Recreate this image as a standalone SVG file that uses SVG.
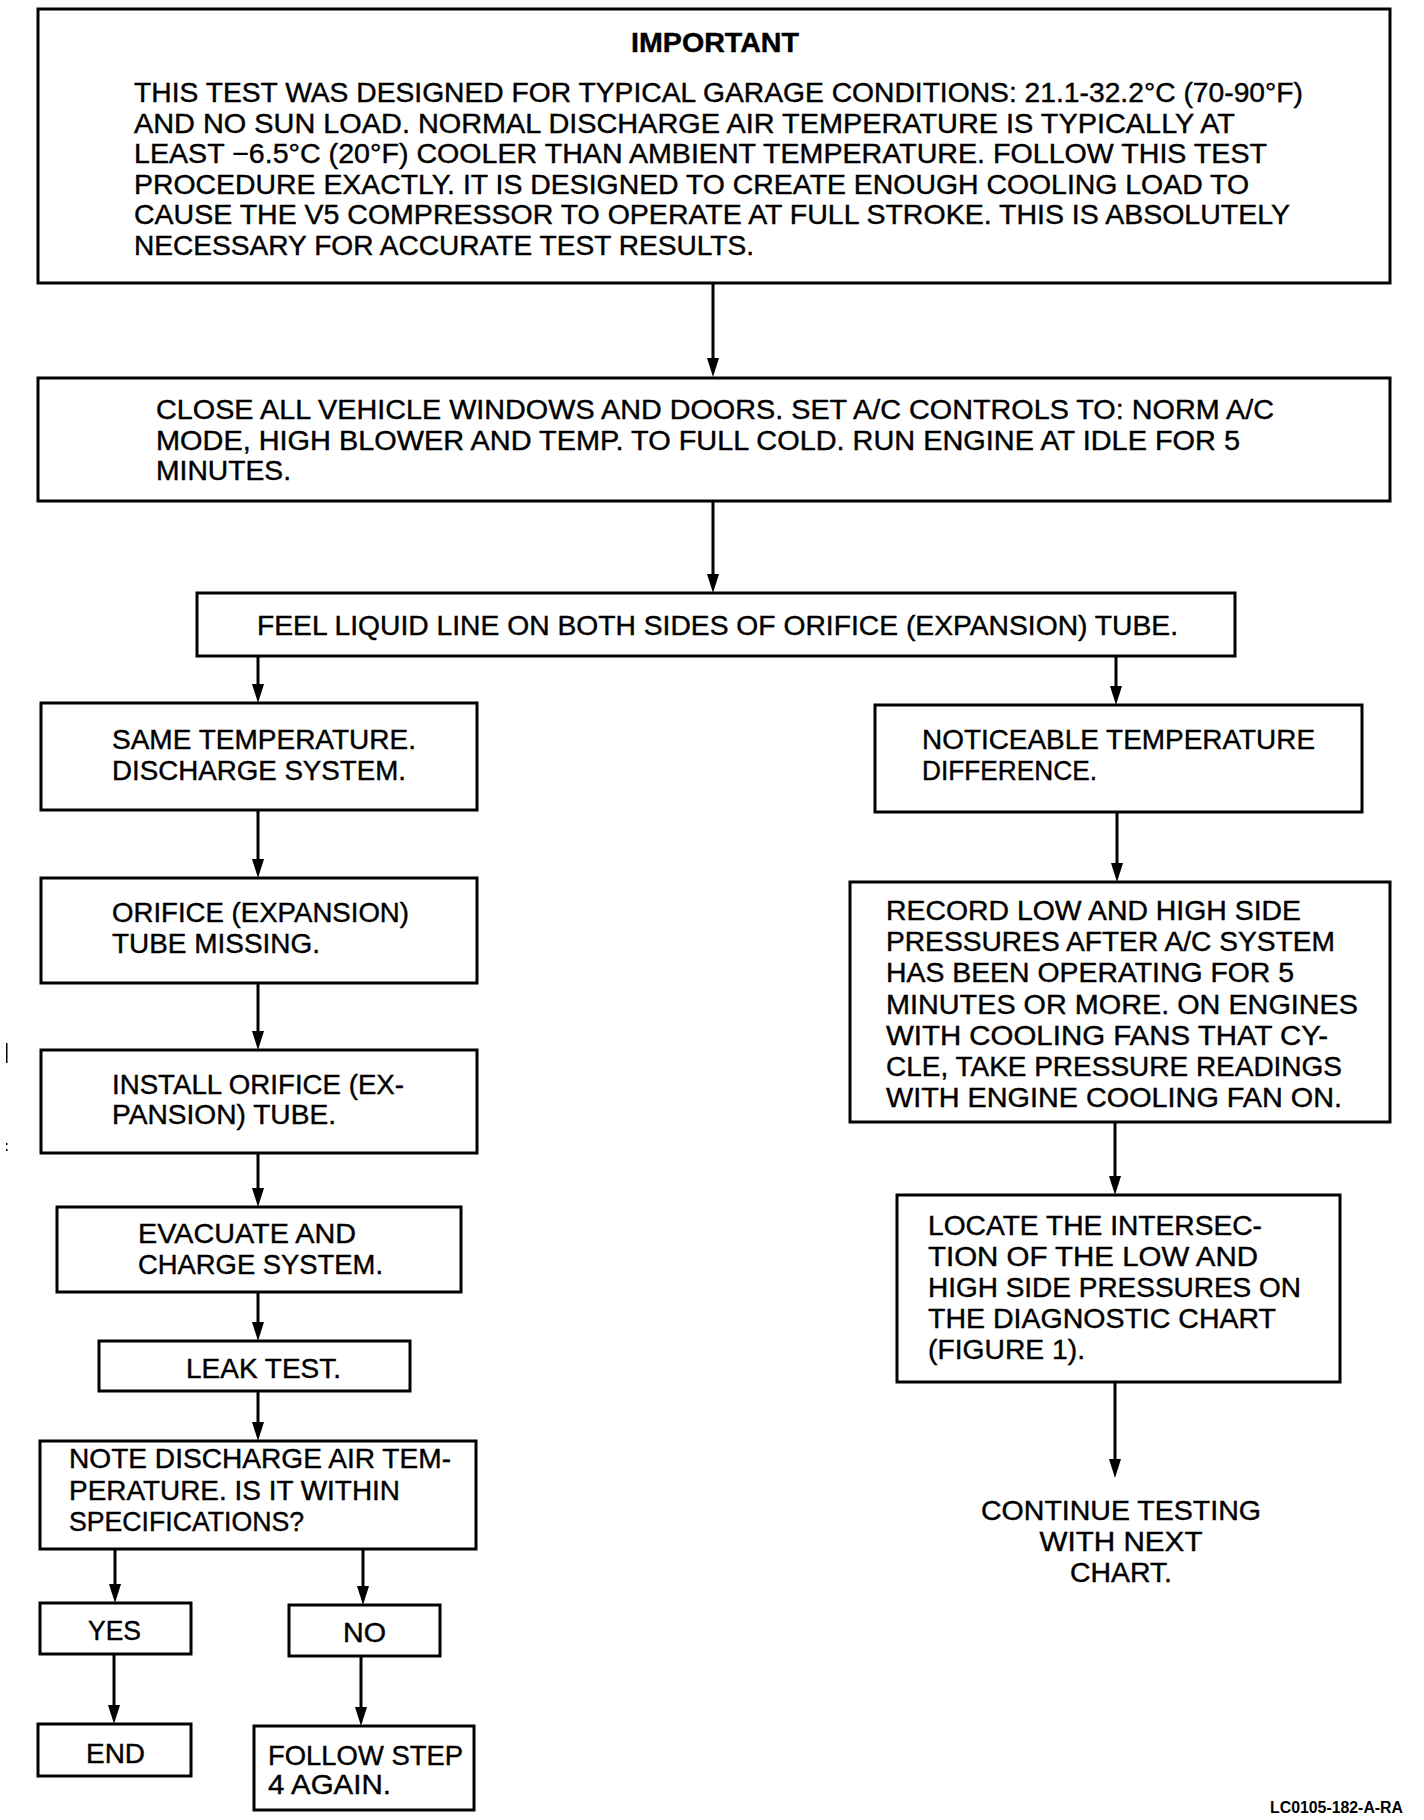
<svg xmlns="http://www.w3.org/2000/svg" width="1424" height="1820" viewBox="0 0 1424 1820">
<style>
.box{fill:#fff;stroke:#000;stroke-width:3}
.t{font-family:"Liberation Sans",Arial,Helvetica,sans-serif;font-size:27.5px;fill:#000;stroke:#000;stroke-width:0.4}
.b{font-weight:bold}
.c{text-anchor:middle}
.ln{fill:none;stroke:#000;stroke-width:3}
.small{font-family:"Liberation Sans",Arial,sans-serif;font-size:16px;font-weight:bold;fill:#000}
</style>
<defs>
<marker id="ah" markerUnits="userSpaceOnUse" markerWidth="20" markerHeight="14" viewBox="0 0 20 14" refX="8" refY="7" orient="auto">
<path d="M0,1 L19,7 L0,13 z" fill="#000"/>
</marker>
</defs>
<rect width="1424" height="1820" fill="#fff"/>

<g id="connectors">
<line class="ln" x1="713" y1="283" x2="713" y2="366" marker-end="url(#ah)"/>
<line class="ln" x1="713" y1="501" x2="713" y2="582" marker-end="url(#ah)"/>
<line class="ln" x1="258" y1="656" x2="258" y2="692" marker-end="url(#ah)"/>
<line class="ln" x1="1116" y1="656" x2="1116" y2="694" marker-end="url(#ah)"/>
<line class="ln" x1="258" y1="810" x2="258" y2="867" marker-end="url(#ah)"/>
<line class="ln" x1="1117" y1="812" x2="1117" y2="871" marker-end="url(#ah)"/>
<line class="ln" x1="258" y1="983" x2="258" y2="1039" marker-end="url(#ah)"/>
<line class="ln" x1="1115" y1="1122" x2="1115" y2="1184" marker-end="url(#ah)"/>
<line class="ln" x1="258" y1="1153" x2="258" y2="1196" marker-end="url(#ah)"/>
<line class="ln" x1="258" y1="1292" x2="258" y2="1330" marker-end="url(#ah)"/>
<line class="ln" x1="1115" y1="1382" x2="1115" y2="1467" marker-end="url(#ah)"/>
<line class="ln" x1="258" y1="1391" x2="258" y2="1430" marker-end="url(#ah)"/>
<line class="ln" x1="115" y1="1549" x2="115" y2="1592" marker-end="url(#ah)"/>
<line class="ln" x1="363" y1="1549" x2="363" y2="1594" marker-end="url(#ah)"/>
<line class="ln" x1="114" y1="1654" x2="114" y2="1713" marker-end="url(#ah)"/>
<line class="ln" x1="361" y1="1656" x2="361" y2="1715" marker-end="url(#ah)"/>
</g>

<g id="important">
<rect class="box" x="38" y="9" width="1352" height="274"/>
<text class="t b" x="631" y="52" textLength="168" lengthAdjust="spacingAndGlyphs">IMPORTANT</text>
<text class="t" x="134" y="102" textLength="1169" lengthAdjust="spacingAndGlyphs">THIS TEST WAS DESIGNED FOR TYPICAL GARAGE CONDITIONS: 21.1-32.2°C (70-90°F)</text>
<text class="t" x="134" y="132.5" textLength="1101" lengthAdjust="spacingAndGlyphs">AND NO SUN LOAD. NORMAL DISCHARGE AIR TEMPERATURE IS TYPICALLY AT</text>
<text class="t" x="134" y="163" textLength="1133" lengthAdjust="spacingAndGlyphs">LEAST −6.5°C (20°F) COOLER THAN AMBIENT TEMPERATURE. FOLLOW THIS TEST</text>
<text class="t" x="134" y="193.5" textLength="1115" lengthAdjust="spacingAndGlyphs">PROCEDURE EXACTLY. IT IS DESIGNED TO CREATE ENOUGH COOLING LOAD TO</text>
<text class="t" x="134" y="224" textLength="1156" lengthAdjust="spacingAndGlyphs">CAUSE THE V5 COMPRESSOR TO OPERATE AT FULL STROKE. THIS IS ABSOLUTELY</text>
<text class="t" x="134" y="254.5" textLength="620" lengthAdjust="spacingAndGlyphs">NECESSARY FOR ACCURATE TEST RESULTS.</text>
</g>

<g id="close-windows">
<rect class="box" x="38" y="378" width="1352" height="123"/>
<text class="t" x="156" y="419" textLength="1118" lengthAdjust="spacingAndGlyphs">CLOSE ALL VEHICLE WINDOWS AND DOORS. SET A/C CONTROLS TO: NORM A/C</text>
<text class="t" x="156" y="450" textLength="1084" lengthAdjust="spacingAndGlyphs">MODE, HIGH BLOWER AND TEMP. TO FULL COLD. RUN ENGINE AT IDLE FOR 5</text>
<text class="t" x="156" y="480" textLength="135" lengthAdjust="spacingAndGlyphs">MINUTES.</text>
</g>

<g id="feel-liquid-line">
<rect class="box" x="197" y="593" width="1038" height="63"/>
<text class="t" x="257" y="635" textLength="921" lengthAdjust="spacingAndGlyphs">FEEL LIQUID LINE ON BOTH SIDES OF ORIFICE (EXPANSION) TUBE.</text>
</g>

<g id="same-temperature">
<rect class="box" x="41" y="703" width="436" height="107"/>
<text class="t" x="112" y="749" textLength="304" lengthAdjust="spacingAndGlyphs">SAME TEMPERATURE.</text>
<text class="t" x="112" y="780" textLength="294" lengthAdjust="spacingAndGlyphs">DISCHARGE SYSTEM.</text>
</g>

<g id="noticeable-difference">
<rect class="box" x="875" y="705" width="487" height="107"/>
<text class="t" x="922" y="749" textLength="393" lengthAdjust="spacingAndGlyphs">NOTICEABLE TEMPERATURE</text>
<text class="t" x="922" y="780" textLength="175" lengthAdjust="spacingAndGlyphs">DIFFERENCE.</text>
</g>

<g id="tube-missing">
<rect class="box" x="41" y="878" width="436" height="105"/>
<text class="t" x="112" y="922" textLength="297" lengthAdjust="spacingAndGlyphs">ORIFICE (EXPANSION)</text>
<text class="t" x="112" y="953" textLength="208" lengthAdjust="spacingAndGlyphs">TUBE MISSING.</text>
</g>

<g id="record-pressures">
<rect class="box" x="850" y="882" width="540" height="240"/>
<text class="t" x="886" y="920" textLength="415" lengthAdjust="spacingAndGlyphs">RECORD LOW AND HIGH SIDE</text>
<text class="t" x="886" y="951" textLength="449" lengthAdjust="spacingAndGlyphs">PRESSURES AFTER A/C SYSTEM</text>
<text class="t" x="886" y="982" textLength="408" lengthAdjust="spacingAndGlyphs">HAS BEEN OPERATING FOR 5</text>
<text class="t" x="886" y="1014" textLength="472" lengthAdjust="spacingAndGlyphs">MINUTES OR MORE. ON ENGINES</text>
<text class="t" x="886" y="1045" textLength="442" lengthAdjust="spacingAndGlyphs">WITH COOLING FANS THAT CY-</text>
<text class="t" x="886" y="1076" textLength="456" lengthAdjust="spacingAndGlyphs">CLE, TAKE PRESSURE READINGS</text>
<text class="t" x="886" y="1107" textLength="456" lengthAdjust="spacingAndGlyphs">WITH ENGINE COOLING FAN ON.</text>
</g>

<g id="install-tube">
<rect class="box" x="41" y="1050" width="436" height="103"/>
<text class="t" x="112" y="1094" textLength="292" lengthAdjust="spacingAndGlyphs">INSTALL ORIFICE (EX-</text>
<text class="t" x="112" y="1124" textLength="224" lengthAdjust="spacingAndGlyphs">PANSION) TUBE.</text>
</g>

<g id="evacuate-charge">
<rect class="box" x="57" y="1207" width="404" height="85"/>
<text class="t" x="138" y="1243" textLength="218" lengthAdjust="spacingAndGlyphs">EVACUATE AND</text>
<text class="t" x="138" y="1274" textLength="245" lengthAdjust="spacingAndGlyphs">CHARGE SYSTEM.</text>
</g>

<g id="locate-intersection">
<rect class="box" x="897" y="1195" width="443" height="187"/>
<text class="t" x="928" y="1235" textLength="334" lengthAdjust="spacingAndGlyphs">LOCATE THE INTERSEC-</text>
<text class="t" x="928" y="1266" textLength="330" lengthAdjust="spacingAndGlyphs">TION OF THE LOW AND</text>
<text class="t" x="928" y="1297" textLength="373" lengthAdjust="spacingAndGlyphs">HIGH SIDE PRESSURES ON</text>
<text class="t" x="928" y="1328" textLength="348" lengthAdjust="spacingAndGlyphs">THE DIAGNOSTIC CHART</text>
<text class="t" x="928" y="1359" textLength="157" lengthAdjust="spacingAndGlyphs">(FIGURE 1).</text>
</g>

<g id="leak-test">
<rect class="box" x="99" y="1341" width="311" height="50"/>
<text class="t" x="186" y="1378" textLength="155" lengthAdjust="spacingAndGlyphs">LEAK TEST.</text>
</g>

<g id="continue-testing">
<text class="t c" x="1121" y="1520" textLength="280" lengthAdjust="spacingAndGlyphs">CONTINUE TESTING</text>
<text class="t c" x="1121" y="1551" textLength="163" lengthAdjust="spacingAndGlyphs">WITH NEXT</text>
<text class="t c" x="1121" y="1582" textLength="102" lengthAdjust="spacingAndGlyphs">CHART.</text>
</g>

<g id="note-discharge">
<rect class="box" x="40" y="1441" width="436" height="108"/>
<text class="t" x="69" y="1468" textLength="382" lengthAdjust="spacingAndGlyphs">NOTE DISCHARGE AIR TEM-</text>
<text class="t" x="69" y="1500" textLength="331" lengthAdjust="spacingAndGlyphs">PERATURE. IS IT WITHIN</text>
<text class="t" x="69" y="1531" textLength="235" lengthAdjust="spacingAndGlyphs">SPECIFICATIONS?</text>
</g>

<g id="yes">
<rect class="box" x="40" y="1603" width="151" height="51"/>
<text class="t" x="88" y="1640" textLength="53" lengthAdjust="spacingAndGlyphs">YES</text>
</g>

<g id="no">
<rect class="box" x="289" y="1605" width="151" height="51"/>
<text class="t" x="343" y="1642" textLength="43" lengthAdjust="spacingAndGlyphs">NO</text>
</g>

<g id="end">
<rect class="box" x="38" y="1724" width="153" height="52"/>
<text class="t" x="86" y="1763" textLength="59" lengthAdjust="spacingAndGlyphs">END</text>
</g>

<g id="follow-step">
<rect class="box" x="254" y="1726" width="220" height="84"/>
<text class="t" x="268" y="1765" textLength="195" lengthAdjust="spacingAndGlyphs">FOLLOW STEP</text>
<text class="t" x="268" y="1794" textLength="123" lengthAdjust="spacingAndGlyphs">4 AGAIN.</text>
</g>

<text class="small" x="1270" y="1813" textLength="133" lengthAdjust="spacingAndGlyphs">LC0105-182-A-RA</text>
<rect x="6" y="1043" width="1.5" height="20" fill="#000"/>
<rect x="6" y="1143" width="1.5" height="2" fill="#000"/>
<rect x="6" y="1149" width="1.5" height="2" fill="#000"/>
</svg>
